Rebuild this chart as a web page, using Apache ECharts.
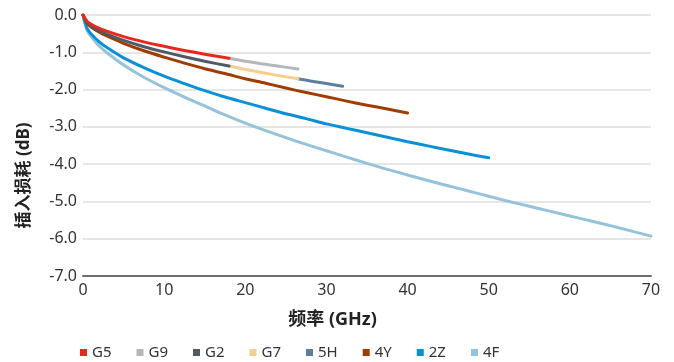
<!DOCTYPE html>
<html>
<head>
<meta charset="utf-8">
<script src="https://cdn.jsdelivr.net/npm/echarts@6/dist/echarts.min.js"></script>
<style>html,body{margin:0;padding:0;background:#fff}#c{width:674px;height:362px}</style>
</head>
<body>
<div id="c"></div>
<script>
// Frequency (GHz) and insertion loss (dB) for each cable type
var names = ['G5', 'G9', 'G2', 'G7', '5H', '4Y', '2Z', '4F'];

var g5F = [0, 0.5, 1, 2, 3, 5, 7.5, 10, 12.5, 15, 18];
var g5L = [0, -0.17, -0.25, -0.36, -0.44, -0.58, -0.72, -0.84, -0.95, -1.05, -1.16];

var g9F = [18, 20, 22.5, 24, 26.5];
var g9L = [-1.16, -1.24, -1.32, -1.37, -1.45];

var g2F = [0, 0.5, 1, 2, 3, 5, 7.5, 10, 12.5, 15, 18];
var g2L = [0, -0.20, -0.29, -0.42, -0.52, -0.68, -0.85, -0.99, -1.12, -1.24, -1.37];

var g7F = [18, 20, 22.5, 24, 26.5];
var g7L = [-1.37, -1.46, -1.56, -1.62, -1.71];

var h5F = [26.5, 28, 30, 32];
var h5L = [-1.71, -1.77, -1.84, -1.91];

var y4F = [0, 0.5, 1, 2, 3, 5, 7.5, 10, 12.5, 15, 17.5, 20, 22.5, 25, 27.5, 30, 32.5, 35, 37.5, 40];
var y4L = [0, -0.22, -0.32, -0.46, -0.57, -0.76, -0.96, -1.13, -1.29, -1.44, -1.57, -1.71, -1.83, -1.96, -2.08, -2.19, -2.31, -2.42, -2.52, -2.63];

var z2F = [0, 0.5, 1, 2, 3, 5, 7.5, 10, 12.5, 15, 17.5, 20, 22.5, 25, 27.5, 30, 32.5, 35, 37.5, 40, 42.5, 45, 47.5, 50];
var z2L = [0, -0.36, -0.51, -0.72, -0.88, -1.15, -1.41, -1.64, -1.84, -2.03, -2.20, -2.35, -2.50, -2.65, -2.78, -2.92, -3.04, -3.16, -3.28, -3.40, -3.51, -3.62, -3.73, -3.83];

var f4F = [0, 0.5, 1, 2, 3, 5, 7.5, 10, 12.5, 15, 17.5, 20, 22.5, 25, 27.5, 30, 32.5, 35, 37.5, 40, 42.5, 45, 47.5, 50, 52.5, 55, 57.5, 60, 62.5, 65, 67.5, 70];
var f4L = [0, -0.41, -0.58, -0.83, -1.02, -1.34, -1.67, -1.95, -2.20, -2.44, -2.68, -2.90, -3.10, -3.29, -3.47, -3.64, -3.81, -3.98, -4.14, -4.29, -4.44, -4.58, -4.72, -4.86, -5.00, -5.13, -5.26, -5.39, -5.52, -5.65, -5.79, -5.93];

var xTicks = [0, 10, 20, 30, 40, 50, 60, 70];
var yTicks = [0, -1, -2, -3, -4, -5, -6, -7];

var colors = ['#e8281d', '#b3b7bc', '#4e5a66', '#f9cc90', '#5c7f9d', '#a03c02', '#0a90d6', '#94c3da'];
var zs = [18, 16, 17, 15, 14, 13, 12, 11];

function pairs(xs, ys) { return xs.map(function (x, i) { return [x, ys[i]]; }); }
var dataSets = [pairs(g5F, g5L), pairs(g9F, g9L), pairs(g2F, g2L), pairs(g7F, g7L),
                pairs(h5F, h5L), pairs(y4F, y4L), pairs(z2F, z2L), pairs(f4F, f4L)];

var FONT = '"Noto Sans", "Noto Sans CJK SC", sans-serif';

var series = names.map(function (n, i) {
  return {
    name: n, type: 'line', data: dataSets[i], smooth: 0.3, showSymbol: false,
    z: zs[i], color: colors[i],
    lineStyle: { width: 3, color: colors[i], cap: 'round', join: 'round' }
  };
});

var chart = echarts.init(document.getElementById('c'), null, { renderer: 'canvas' });
chart.setOption({
  animation: false,
  backgroundColor: '#fff',
  textStyle: { fontFamily: FONT },
  grid: { left: 83, right: 23, top: 15, bottom: 86, containLabel: false },
  legend: {
    data: names, left: 75, top: 340, itemWidth: 7, itemHeight: 7, itemGap: 25,
    icon: 'rect', textStyle: { fontFamily: FONT, fontSize: 15, color: '#333', width: 25 }
  },
  xAxis: {
    type: 'value', min: xTicks[0], max: xTicks[xTicks.length - 1], interval: 10,
    name: '频率 (GHz)', nameLocation: 'middle', nameGap: 35,
    nameTextStyle: { fontFamily: FONT, fontSize: 18, fontWeight: 'bold', color: '#222', padding: [0, 69, 0, 0] },
    axisLine: { show: true, onZero: false, lineStyle: { color: '#6e6e6e', width: 2 } },
    axisTick: { show: false },
    axisLabel: { fontFamily: FONT, fontSize: 16, color: '#333', margin: 6 },
    splitLine: { show: false }
  },
  yAxis: {
    type: 'value', min: yTicks[yTicks.length - 1], max: yTicks[0], interval: 1,
    name: '插入损耗 (dB)', nameLocation: 'middle', nameGap: 50, nameRotate: 90,
    nameTextStyle: { fontFamily: FONT, fontSize: 17, fontWeight: 'bold', color: '#222', padding: [0, 60, 0, 0] },
    axisLine: { show: false }, axisTick: { show: false },
    axisLabel: { fontFamily: FONT, fontSize: 16, color: '#333', margin: 6,
      formatter: function (v) { return v.toFixed(1); } },
    splitLine: { show: true, lineStyle: { color: '#e6e6e6', width: 2 } }
  },
  series: series
});
</script>
</body>
</html>
